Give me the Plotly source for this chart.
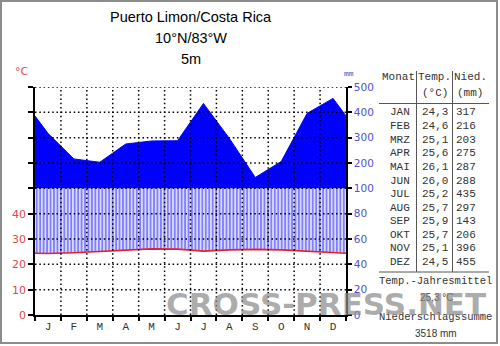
import plotly.graph_objects as go

# Climate data for Puerto Limon / Costa Rica
month_letters = ["J", "F", "M", "A", "M", "J", "J", "A", "S", "O", "N", "D"]
month_abbr = ["JAN", "FEB", "MRZ", "APR", "MAI", "JUN", "JUL", "AUG", "SEP", "OKT", "NOV", "DEZ"]
temp_c = [24.3, 24.6, 25.1, 25.6, 26.1, 26.0, 25.2, 25.7, 25.9, 25.7, 25.1, 24.5]
precip_mm = [317, 216, 203, 275, 287, 288, 435, 297, 143, 206, 396, 455]
temp_tick_labels = [0, 10, 20, 30, 40]
precip_tick_labels = [0, 20, 40, 60, 80, 100, 200, 300, 400, 500]
station_lines = ["Puerto Limon/Costa Rica", "10°N/83°W", "5m"]
annual_temp_text = "25,3 °C"
annual_precip_text = "3518 mm"

# Walter-Lieth scale: 10 °C = 20 mm up to 100 mm, above that 10 °C = 100 mm
def precip_scale(mm):
    return mm / 2.0 if mm <= 100 else 50.0 + (mm - 100) / 10.0

# Plot area in pixels (used to place the text around the diagram)
W, H = 500, 346
L, R, T, B = 35, 346, 87, 315

def px(x):
    return (x - L) / (R - L)

def py(y):
    return (B - y) / (B - T)

# Month centres, closed cyclically at both edges
x_ext = [0.0] + [i + 0.5 for i in range(12)] + [12.0]
t_edge = (temp_c[0] + temp_c[-1]) / 2
t_ext = [t_edge] + temp_c + [t_edge]
p_scaled = [precip_scale(v) for v in precip_mm]
p_edge = (p_scaled[0] + p_scaled[-1]) / 2
p_ext = [p_edge] + p_scaled + [p_edge]
humid_top = [min(v, 50.0) for v in p_ext]
perhumid_top = [max(v, 50.0) for v in p_ext]

BLUE = "#0000ff"
RED = "#e8202a"

fig = go.Figure()
# humid period: hatched between temperature curve and precipitation (max 100 mm)
fig.add_trace(go.Scatter(x=x_ext, y=t_ext, mode="lines", line=dict(width=0), hoverinfo="skip"))
fig.add_trace(go.Scatter(
    x=x_ext, y=humid_top, mode="lines", line=dict(width=0), fill="tonexty",
    fillcolor="rgba(0,0,0,0)",
    fillpattern=dict(shape="|", fgcolor=BLUE, bgcolor="white", size=3.45, solidity=0.65),
    hoverinfo="skip"))
# perhumid period: solid above 100 mm
fig.add_trace(go.Scatter(x=x_ext, y=[50.0] * len(x_ext), mode="lines", line=dict(width=0), hoverinfo="skip"))
fig.add_trace(go.Scatter(
    x=x_ext, y=perhumid_top, mode="lines", line=dict(width=1, color=BLUE),
    fill="tonexty", fillcolor=BLUE, hoverinfo="skip"))
# temperature curve
fig.add_trace(go.Scatter(x=x_ext, y=t_ext, mode="lines", line=dict(width=1.6, color=RED), hoverinfo="skip"))
# carrier for the right-hand precipitation axis
fig.add_trace(go.Scatter(x=[0], y=[0], yaxis="y2", mode="markers",
                         marker=dict(opacity=0), hoverinfo="skip"))

shapes = []
dot = "1.5px,2.8px"
# dotted grid on top of the fills
for k in range(1, 10):
    shapes.append(dict(type="line", xref="x", yref="y", x0=0, x1=12, y0=k * 10, y1=k * 10,
                       line=dict(color="black", width=1.5, dash=dot), layer="above"))
for m in range(1, 12):
    shapes.append(dict(type="line", xref="x", yref="y", x0=m, x1=m, y0=0, y1=90,
                       line=dict(color="black", width=1.5, dash=dot), layer="above"))

# table lines
TC = "#555555"
shapes.append(dict(type="line", xref="paper", yref="paper", x0=px(416.5), x1=px(416.5),
                   y0=py(71), y1=py(272), line=dict(color=TC, width=1)))
shapes.append(dict(type="line", xref="paper", yref="paper", x0=px(452.5), x1=px(452.5),
                   y0=py(71), y1=py(272), line=dict(color=TC, width=1)))
shapes.append(dict(type="line", xref="paper", yref="paper", x0=px(379), x1=px(489),
                   y0=py(103.5), y1=py(103.5), line=dict(color=TC, width=1)))
shapes.append(dict(type="line", xref="paper", yref="paper", x0=px(379), x1=px(489),
                   y0=py(272), y1=py(272), line=dict(color=TC, width=1)))
# outer frame
shapes.append(dict(type="rect", xref="paper", yref="paper", x0=px(1), x1=px(497),
                   y0=py(1), y1=py(343), line=dict(color="#8c8c8c", width=2)))

ann = []

def text(x, y, s, size, color="#333333", family="Liberation Mono", xanchor="center", **kw):
    ann.append(dict(x=px(x), y=py(y), xref="paper", yref="paper", text=s, showarrow=False,
                    xanchor=xanchor, yanchor="middle",
                    font=dict(size=size, color=color, family=family), **kw))

# station header
for s, y in zip(station_lines, [17, 38, 59]):
    text(190.5, y, s, 14.5, color="black", family="Liberation Sans")

text(22, 72, "°C", 11, color="#e04848", family="DejaVu Sans")
text(349, 73, "mm", 8, color="#4848c8", family="Liberation Mono")

# table header
text(398, 77, "Monat", 11)
text(434, 77, "Temp.", 11)
text(470, 77, "Nied.", 11)
text(435, 93, "(°C)", 11)
text(470, 93, "(mm)", 11)
for i in range(12):
    y = 112.5 + i * 13.6
    text(399.5, y, month_abbr[i], 11)
    text(435, y, f"{temp_c[i]:.1f}".replace(".", ","), 11)
    text(466, y, str(precip_mm[i]), 11)

text(435, 281, "Temp.-Jahresmittel", 10.5)
text(436, 297, annual_temp_text, 10, family="Liberation Sans")
text(435, 317, "Niederschlagssumme", 10.5)
text(436, 333, annual_precip_text, 10, family="Liberation Sans")

# watermark
text(326, 304, "CROSS-PRESS.NET", 31, color="rgba(140,140,140,0.72)", family="DejaVu Sans")
ann[-1]["font"]["weight"] = "bold"

fig.update_layout(
    width=W, height=H,
    margin=dict(l=L, r=W - R, t=T, b=H - B, pad=0),
    plot_bgcolor="white", paper_bgcolor="white",
    showlegend=False,
    shapes=shapes, annotations=ann,
    xaxis=dict(
        range=[0, 12], showgrid=False, zeroline=False,
        showline=True, linecolor="black", linewidth=1.5,
        tickmode="array", tickvals=[i + 0.5 for i in range(12)], ticktext=month_letters,
        ticks="", tickfont=dict(family="Liberation Mono", size=11, color="#333333"),
        minor=dict(tickmode="array", tickvals=list(range(13)), ticks="outside",
                   ticklen=4, tickwidth=1.5, tickcolor="black", showgrid=False),
        fixedrange=True,
    ),
    yaxis=dict(
        range=[0, 90], showgrid=False, zeroline=False,
        showline=True, linecolor="black", linewidth=1.5,
        tickmode="array", tickvals=[k * 10 for k in range(10)],
        ticktext=[str(k * 10) if k * 10 in temp_tick_labels else "" for k in range(10)],
        ticks="outside", ticklen=5, tickwidth=1.5, tickcolor="black",
        tickfont=dict(family="DejaVu Sans", size=11, color="#e04848"),
        fixedrange=True,
    ),
    yaxis2=dict(
        overlaying="y", side="right", anchor="x",
        range=[0, 90], showgrid=False, zeroline=False,
        showline=True, linecolor="black", linewidth=1.5,
        tickmode="array", tickvals=[precip_scale(v) for v in precip_tick_labels],
        ticktext=[str(v) for v in precip_tick_labels],
        ticks="outside", ticklen=4, tickwidth=1.5, tickcolor="black",
        tickfont=dict(family="DejaVu Sans", size=10.5, color="#5050d0"),
        fixedrange=True,
    ),
)

fig.write_html("out.html")
